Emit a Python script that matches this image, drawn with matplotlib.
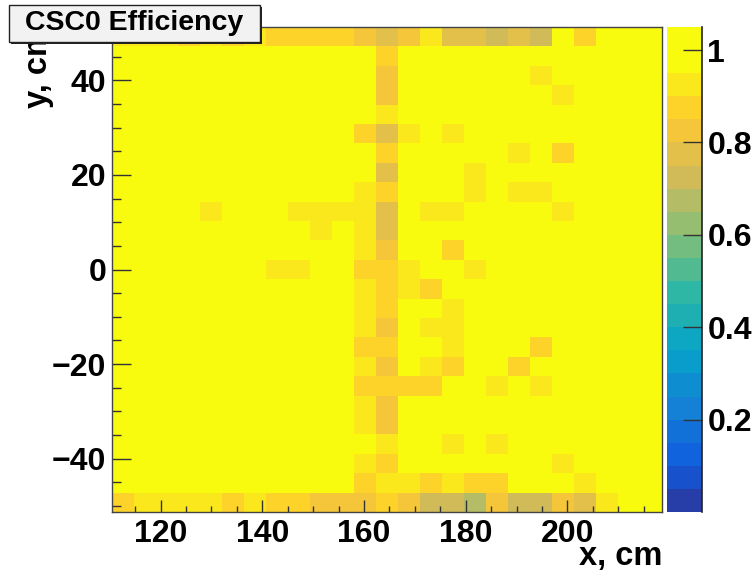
import numpy as np
import matplotlib
matplotlib.use("Agg")
import matplotlib.pyplot as plt
from matplotlib.colors import ListedColormap, BoundaryNorm
from matplotlib.cm import ScalarMappable
from matplotlib.patches import Rectangle
from matplotlib.ticker import FuncFormatter

plt.rcParams["font.family"] = ["Liberation Sans", "DejaVu Sans"]
plt.rcParams["font.weight"] = "bold"

# ---------------- data ----------------
title = "CSC0 Efficiency"
x_label = "x, cm"
y_label = "y, cm"
x_min, x_max = 110.4, 218.6
y_min, y_max = -51.3, 51.3
x_ticks = [120, 140, 160, 180, 200]
y_ticks = [-40, -20, 0, 20, 40]
z_ticks = [0.2, 0.4, 0.6, 0.8, 1.0]
z_levels = [0.0, 0.05, 0.10, 0.15, 0.20, 0.25, 0.30, 0.35, 0.40, 0.45, 0.50,
            0.55, 0.60, 0.65, 0.70, 0.75, 0.80, 0.85, 0.90, 0.95, 1.05]

# efficiency per cell: rows from top (high y) to bottom (low y), columns left -> right
eff = [
    [.93, .93, .93, .87, .93, .87, .93, .87, .87, .87, .87, .82, .77, .82, .93, .77, .77, .72, .77, .72, 1, .87, 1, 1, 1],
    [1, 1, 1, 1, 1, 1, 1, 1, 1, 1, 1, 1, .87, 1, 1, 1, 1, 1, 1, 1, 1, 1, 1, 1, 1],
    [1, 1, 1, 1, 1, 1, 1, 1, 1, 1, 1, 1, .82, 1, 1, 1, 1, 1, 1, .93, 1, 1, 1, 1, 1],
    [1, 1, 1, 1, 1, 1, 1, 1, 1, 1, 1, 1, .82, 1, 1, 1, 1, 1, 1, 1, .93, 1, 1, 1, 1],
    [1, 1, 1, 1, 1, 1, 1, 1, 1, 1, 1, 1, .93, 1, 1, 1, 1, 1, 1, 1, 1, 1, 1, 1, 1],
    [1, 1, 1, 1, 1, 1, 1, 1, 1, 1, 1, .87, .77, .93, 1, .93, 1, 1, 1, 1, 1, 1, 1, 1, 1],
    [1, 1, 1, 1, 1, 1, 1, 1, 1, 1, 1, 1, .87, 1, 1, 1, 1, 1, .93, 1, .87, 1, 1, 1, 1],
    [1, 1, 1, 1, 1, 1, 1, 1, 1, 1, 1, 1, .77, 1, 1, 1, .93, 1, 1, 1, 1, 1, 1, 1, 1],
    [1, 1, 1, 1, 1, 1, 1, 1, 1, 1, 1, .93, .87, 1, 1, 1, .93, 1, .93, .93, 1, 1, 1, 1, 1],
    [1, 1, 1, 1, .93, 1, 1, 1, .93, .93, .93, .93, .77, 1, .93, .93, 1, 1, 1, 1, .93, 1, 1, 1, 1],
    [1, 1, 1, 1, 1, 1, 1, 1, 1, .93, 1, .93, .77, 1, 1, 1, 1, 1, 1, 1, 1, 1, 1, 1, 1],
    [1, 1, 1, 1, 1, 1, 1, 1, 1, 1, 1, .93, .82, 1, 1, .87, 1, 1, 1, 1, 1, 1, 1, 1, 1],
    [1, 1, 1, 1, 1, 1, 1, .93, .93, 1, 1, .87, .87, .93, 1, 1, .93, 1, 1, 1, 1, 1, 1, 1, 1],
    [1, 1, 1, 1, 1, 1, 1, 1, 1, 1, 1, .93, .87, .93, .87, 1, 1, 1, 1, 1, 1, 1, 1, 1, 1],
    [1, 1, 1, 1, 1, 1, 1, 1, 1, 1, 1, .93, .87, 1, 1, .93, 1, 1, 1, 1, 1, 1, 1, 1, 1],
    [1, 1, 1, 1, 1, 1, 1, 1, 1, 1, 1, .93, .82, 1, .93, .93, 1, 1, 1, 1, 1, 1, 1, 1, 1],
    [1, 1, 1, 1, 1, 1, 1, 1, 1, 1, 1, .87, .87, 1, 1, .93, 1, 1, 1, .87, 1, 1, 1, 1, 1],
    [1, 1, 1, 1, 1, 1, 1, 1, 1, 1, 1, .93, .82, 1, .93, .87, 1, 1, .87, 1, 1, 1, 1, 1, 1],
    [1, 1, 1, 1, 1, 1, 1, 1, 1, 1, 1, .87, .87, .87, .87, 1, 1, .93, 1, .93, 1, 1, 1, 1, 1],
    [1, 1, 1, 1, 1, 1, 1, 1, 1, 1, 1, .93, .82, 1, 1, 1, 1, 1, 1, 1, 1, 1, 1, 1, 1],
    [1, 1, 1, 1, 1, 1, 1, 1, 1, 1, 1, .93, .82, 1, 1, 1, 1, 1, 1, 1, 1, 1, 1, 1, 1],
    [1, 1, 1, 1, 1, 1, 1, 1, 1, 1, 1, 1, .93, 1, 1, .93, 1, .93, 1, 1, 1, 1, 1, 1, 1],
    [1, 1, 1, 1, 1, 1, 1, 1, 1, 1, 1, .93, .87, 1, 1, 1, 1, 1, 1, 1, .93, 1, 1, 1, 1],
    [1, 1, 1, 1, 1, 1, 1, 1, 1, 1, 1, .87, .93, .93, .87, .93, .87, .87, 1, 1, 1, .93, 1, 1, 1],
    [.87, .93, .93, .93, .93, .87, .93, .87, .87, .82, .82, .82, .87, .82, .72, .72, .67, .82, .72, .72, .82, .77, .93, 1, 1],
]

# ROOT kBird palette definition
bird_stops = [0.0000, 0.1250, 0.2500, 0.3750, 0.5000, 0.6250, 0.7500, 0.8750, 1.0000]
bird_red = [0.2082, 0.0592, 0.0780, 0.0232, 0.1802, 0.5301, 0.8186, 0.9956, 0.9764]
bird_green = [0.1664, 0.3599, 0.5041, 0.6419, 0.7178, 0.7492, 0.7328, 0.7862, 0.9832]
bird_blue = [0.5293, 0.8684, 0.8385, 0.7914, 0.6425, 0.4662, 0.3499, 0.1968, 0.0539]


def bird(t):
    return (np.interp(t, bird_stops, bird_red),
            np.interp(t, bird_stops, bird_green),
            np.interp(t, bird_stops, bird_blue))


n_bands = len(z_levels) - 1
n_pal = 255
band_colors = [bird(int((k + 0.99) * n_pal / n_bands) / (n_pal - 1)) for k in range(n_bands)]
cmap = ListedColormap(band_colors)
norm = BoundaryNorm(z_levels, cmap.N)

# ---------------- figure ----------------
W, H = 755, 578
fig = plt.figure(figsize=(W / 100, H / 100), dpi=100)

L, R, T, B = 111.7, 662.0, 27.0, 512.0
ax = fig.add_axes([L / W, 1 - B / H, (R - L) / W, (B - T) / H])

Z = np.array(eff, dtype=float)[::-1]
ny, nx = Z.shape
xe = np.linspace(x_min, x_max, nx + 1)
ye = np.linspace(y_min, y_max, ny + 1)
ax.pcolormesh(xe, ye, Z, cmap=cmap, norm=norm, edgecolors="none", antialiased=False)
ax.set_xlim(x_min, x_max)
ax.set_ylim(y_min, y_max)

FS = 23
ax.set_xticks(x_ticks)
ax.set_xticks(np.arange(115, 219, 5), minor=True)
ax.set_yticks(y_ticks)
ax.set_yticks(np.arange(-50, 51, 5), minor=True)
ax.tick_params(which="both", direction="in", top=False, right=False,
               color="#333333", labelcolor="black", labelsize=FS, width=1)
ax.tick_params(axis="y", which="major", length=13.5, pad=4)
ax.tick_params(axis="y", which="minor", length=6.5)
ax.tick_params(axis="x", which="major", length=8.5, pad=5)
ax.tick_params(axis="x", which="minor", length=4)
for lab in ax.get_xticklabels() + ax.get_yticklabels():
    lab.set_fontweight("bold")
for s in ax.spines.values():
    s.set_color("#444444")
    s.set_linewidth(1.0)

# colour bar
cL, cR = 666.7, 701.7
cax = fig.add_axes([cL / W, 1 - B / H, (cR - cL) / W, (B - T) / H])
cb = fig.colorbar(ScalarMappable(norm=norm, cmap=cmap), cax=cax,
                  boundaries=z_levels, spacing="proportional", ticks=z_ticks)
cb.outline.set_visible(False)
cax.yaxis.set_major_formatter(FuncFormatter(lambda v, p: f"{v:g}"))
cax.tick_params(which="major", direction="in", length=14, width=1, color="#333333",
                labelsize=FS, pad=4)
cax.minorticks_off()
for lab in cax.get_yticklabels():
    lab.set_fontweight("bold")
cax.plot([1, 1], [0, 1], transform=cax.transAxes, color="#222222", lw=1.2, clip_on=False)

# axis titles
fig.text(R / W, 1 - 557 / H, x_label, ha="right", va="center", fontsize=FS + 0.5, fontweight="bold")
fig.text(39 / W, 1 - T / H, y_label, ha="center", va="top", rotation=90,
         fontsize=FS + 0.5, fontweight="bold", zorder=2)

# title box with shadow
bx0, bx1, by0, by1 = 9, 260, 5, 42
shadow = Rectangle(((bx0 + 2) / W, 1 - (by1 + 2) / H), (bx1 - bx0) / W, (by1 - by0) / H,
                   transform=fig.transFigure, facecolor="#222222", edgecolor="none", zorder=5)
box = Rectangle((bx0 / W, 1 - by1 / H), (bx1 - bx0) / W, (by1 - by0) / H,
                transform=fig.transFigure, facecolor="#f2f2f2", edgecolor="#222222",
                linewidth=1.0, zorder=6)
fig.patches.extend([shadow, box])
fig.text((bx0 + bx1) / 2 / W, 1 - (by0 + by1) / 2 / H, title, ha="center", va="center",
         fontsize=20.5, fontweight="bold", zorder=7)

fig.savefig("out.png", dpi=100)
